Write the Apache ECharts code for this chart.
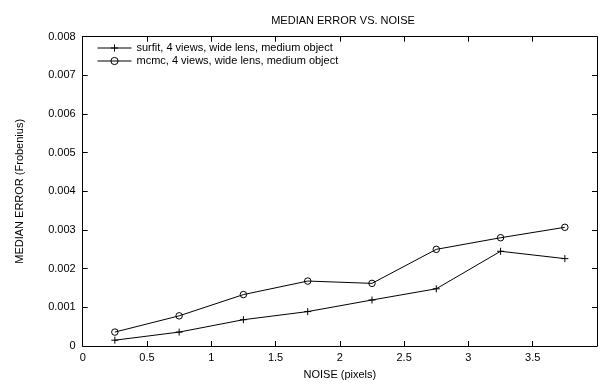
<!DOCTYPE html>
<html>
<head>
<meta charset="utf-8">
<script src="https://cdn.jsdelivr.net/npm/echarts@6/dist/echarts.min.js"></script>
<style>
  html, body { margin: 0; padding: 0; background: #fff; }
  #chart { width: 600px; height: 385px; }
</style>
</head>
<body>
<div id="chart"></div>
<script>
// Noise levels (pixels) at which the median error was measured
const noise = [0.25, 0.75, 1.25, 1.75, 2.25, 2.75, 3.25, 3.75];
// Median error (Frobenius norm) for each estimator
const surfit = [0.00015, 0.00036, 0.00068, 0.00089, 0.00119, 0.00148, 0.00245, 0.00226];
const mcmc   = [0.00036, 0.00078, 0.00133, 0.00168, 0.00162, 0.00250, 0.00280, 0.00307];
const seriesNames = [
  'surfit, 4 views, wide lens, medium object',
  'mcmc, 4 views, wide lens, medium object'
];
const xTicks = ['0', '0.5', '1', '1.5', '2', '2.5', '3', '3.5'];
const yTicks = ['0', '0.001', '0.002', '0.003', '0.004', '0.005', '0.006', '0.007', '0.008'];

const FONT = 'Liberation Sans, Arial, Helvetica, sans-serif';
const INK = '#000';

const pairs = (ys) => noise.map((x, i) => [x, ys[i]]);

// Frame lines stay on the grid edges instead of snapping to zero
const boxAxisLine = { show: true, onZero: false, lineStyle: { color: INK, width: 1 } };
const inTicks = { show: true, inside: true, length: 5, lineStyle: { color: INK, width: 1 } };

const chart = echarts.init(document.getElementById('chart'), null, { renderer: 'canvas' });

chart.setOption({
  animation: false,
  backgroundColor: '#fff',
  textStyle: { fontFamily: FONT, color: INK },
  title: {
    text: 'MEDIAN ERROR VS. NOISE',
    left: 343,
    top: 15.5,
    textAlign: 'center',
    padding: 0,
    textStyle: { fontFamily: FONT, fontSize: 11, fontWeight: 'normal', color: INK }
  },
  legend: {
    orient: 'vertical',
    left: 97,
    top: 42,
    padding: 0,
    itemWidth: 34,
    itemHeight: 9,
    itemGap: 1,
    lineStyle: { width: 1, color: INK },
    itemStyle: { borderWidth: 1, borderColor: INK },
    textStyle: { fontFamily: FONT, fontSize: 11, color: INK, lineHeight: 12 },
    data: seriesNames
  },
  grid: { left: 82.7, right: -2.3, top: 36.7, bottom: 37.3, containLabel: false },
  xAxis: [
    {
      type: 'value', position: 'bottom', min: 0, max: 4, interval: 0.5,
      name: 'NOISE (pixels)', nameLocation: 'middle', nameGap: 23,
      nameTextStyle: { fontFamily: FONT, fontSize: 11, color: INK },
      axisLine: boxAxisLine, axisTick: inTicks,
      axisLabel: {
        margin: 6, fontFamily: FONT, fontSize: 11, color: INK,
        formatter: (v) => { const i = Math.round(v / 0.5); return xTicks[i] !== undefined ? xTicks[i] : ''; }
      },
      splitLine: { show: false }
    },
    {
      type: 'value', position: 'top', min: 0, max: 4, interval: 0.5,
      axisLine: boxAxisLine, axisTick: inTicks,
      axisLabel: { show: false }, splitLine: { show: false }
    }
  ],
  yAxis: [
    {
      type: 'value', position: 'left', min: 0, max: 0.008, interval: 0.001,
      name: 'MEDIAN ERROR (Frobenius)', nameLocation: 'middle', nameGap: 57,
      nameTextStyle: { fontFamily: FONT, fontSize: 11, color: INK },
      axisLine: boxAxisLine, axisTick: inTicks,
      axisLabel: {
        margin: 7, fontFamily: FONT, fontSize: 11, color: INK,
        formatter: (v) => yTicks[Math.round(v / 0.001)] || ''
      },
      splitLine: { show: false }
    },
    {
      type: 'value', position: 'right', min: 0, max: 0.008, interval: 0.001,
      axisLine: boxAxisLine, axisTick: inTicks,
      axisLabel: { show: false }, splitLine: { show: false }
    }
  ],
  series: [
    {
      name: seriesNames[0],
      type: 'line',
      xAxisIndex: 0, yAxisIndex: 0,
      data: pairs(surfit),
      symbol: 'path://M0,5L10,5M5,0L5,10',
      symbolSize: 7,
      showAllSymbol: true,
      lineStyle: { color: INK, width: 1 },
      itemStyle: { color: 'transparent', borderColor: INK, borderWidth: 1 },
      emphasis: { disabled: true }
    },
    {
      name: seriesNames[1],
      type: 'line',
      xAxisIndex: 0, yAxisIndex: 0,
      data: pairs(mcmc),
      symbol: 'circle',
      symbolSize: 6.5,
      showAllSymbol: true,
      lineStyle: { color: INK, width: 1 },
      itemStyle: { color: 'transparent', borderColor: INK, borderWidth: 1 },
      emphasis: { disabled: true }
    }
  ]
});
</script>
</body>
</html>
